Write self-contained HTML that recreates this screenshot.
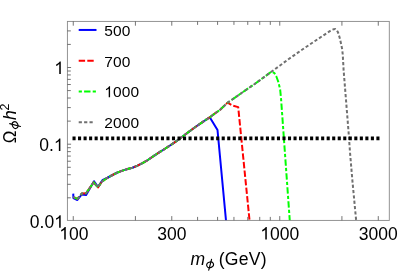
<!DOCTYPE html>
<html><head><meta charset="utf-8"><style>
html,body{margin:0;padding:0;background:#fff;}
body{width:399px;height:273px;overflow:hidden;position:relative;font-family:"Liberation Sans",sans-serif;}
</style></head><body>
<svg width="399" height="273" viewBox="0 0 399 273" style="position:absolute;left:0;top:0;will-change:transform">
<defs><clipPath id="c"><rect x="67.4" y="21.4" width="321.9" height="199.0"/></clipPath></defs>
<g clip-path="url(#c)" fill="none" stroke-width="2" stroke-linejoin="round">
<polyline points="73.25,193.60 73.40,198.00 77.40,200.00 81.75,194.50 86.10,195.00 94.00,181.20 98.00,186.90 102.40,180.20 107.50,177.75 112.50,175.00 117.50,172.50 122.50,170.60 127.50,169.00 132.50,167.75 137.50,165.60 142.50,163.10 147.50,160.25 150.00,158.50 155.00,155.10 160.00,151.90 165.00,148.75 170.00,145.50 175.00,142.10 179.40,139.00 186.25,133.70 195.00,127.25 202.50,122.10 209.75,117.27 217.50,130.00 226.05,221.00" stroke="#0000ff"/>
<polyline points="73.10,196.90 77.40,198.90 81.75,193.60 86.10,193.20 93.70,182.30 98.00,187.40 101.90,181.60 107.50,177.75 112.50,175.00 117.50,172.50 122.50,170.60 127.50,169.00 132.50,167.75 137.50,165.60 142.50,163.10 147.50,160.25 150.00,158.50 155.00,155.10 160.00,151.90 165.00,148.75 170.00,145.50 175.00,142.10 179.40,139.00 186.25,133.70 195.00,127.25 202.50,122.10 210.00,117.10 215.00,113.40 219.90,109.90 227.50,102.75 227.60,102.68 233.00,105.70 238.20,107.10 249.60,221.00" stroke="#ff0000" stroke-dasharray="6.4 2.2" stroke-dashoffset="-1.0"/>
<polyline points="73.10,196.90 77.40,198.90 81.75,193.60 86.10,193.20 93.70,182.30 98.00,187.40 101.90,181.60 107.50,177.75 112.50,175.00 117.50,172.50 122.50,170.60 127.50,169.00 132.50,167.75 137.50,165.60 142.50,163.10 147.50,160.25 150.00,158.50 155.00,155.10 160.00,151.90 165.00,148.75 170.00,145.50 175.00,142.10 179.40,139.00 186.25,133.70 195.00,127.25 202.50,122.10 210.00,117.10 215.00,113.40 219.90,109.90 227.50,102.75 235.00,97.60 245.00,90.60 255.00,83.75 264.40,76.90 271.25,71.80 271.70,71.48 274.40,73.10 276.25,76.25 278.10,81.25 279.10,85.00 280.20,90.00 281.00,98.00 289.80,221.00" stroke="#00ff00" stroke-dasharray="3.2 2.2 6.4 2.2" stroke-dashoffset="4.4"/>
<polyline points="73.10,196.90 77.40,198.90 81.75,193.60 86.10,193.20 93.70,182.30 98.00,187.40 101.90,181.60 107.50,177.75 112.50,175.00 117.50,172.50 122.50,170.60 127.50,169.00 132.50,167.75 137.50,165.60 142.50,163.10 147.50,160.25 150.00,158.50 155.00,155.10 160.00,151.90 165.00,148.75 170.00,145.50 175.00,142.10 179.40,139.00 186.25,133.70 195.00,127.25 202.50,122.10 210.00,117.10 215.00,113.40 219.90,109.90 227.50,102.75 235.00,97.60 245.00,90.60 255.00,83.75 264.40,76.90 271.25,71.80 280.00,65.50 288.75,59.00 297.50,52.90 303.10,49.00 315.00,41.00 325.00,34.30 331.90,29.80 333.80,29.20 335.40,29.10 336.80,30.20 338.10,32.60 339.75,38.00 341.00,43.50 342.10,48.90 342.75,54.50 343.60,70.00 348.60,132.50 350.10,153.50 352.40,180.60 356.20,221.00" stroke="#707070" stroke-dasharray="3.2 2.15" stroke-dashoffset="0.8"/>
<path d="M72.5 138.4H379.5" stroke="#000" stroke-width="3.6" stroke-dasharray="3.1 2.425"/>
</g>
<rect x="67.4" y="21.4" width="321.9" height="199.0" fill="none" stroke="#888888" stroke-width="0.9"/>
<path d="M73.25 220.40v-4.30M73.25 21.40v4.30M135.41 220.40v-4.30M135.41 21.40v4.30M171.78 220.40v-4.30M171.78 21.40v4.30M197.58 220.40v-3.50M197.58 21.40v3.50M217.59 220.40v-3.50M217.59 21.40v3.50M233.94 220.40v-3.50M233.94 21.40v3.50M247.76 220.40v-3.50M247.76 21.40v3.50M259.74 220.40v-3.50M259.74 21.40v3.50M270.30 220.40v-3.50M270.30 21.40v3.50M279.75 220.40v-4.30M279.75 21.40v4.30M341.91 220.40v-4.30M341.91 21.40v4.30M378.28 220.40v-4.30M378.28 21.40v4.30M67.40 197.81h3.40M67.40 184.30h3.40M67.40 174.72h3.40M67.40 167.29h3.40M67.40 161.22h3.40M67.40 156.08h3.40M67.40 151.63h3.40M67.40 147.71h3.40M67.40 144.20h3.70M67.40 121.11h3.40M67.40 107.60h3.40M67.40 98.02h3.40M67.40 90.59h3.40M67.40 84.52h3.40M67.40 79.38h3.40M67.40 74.93h3.40M67.40 71.01h3.40M67.40 67.50h3.70M67.40 44.41h3.40M67.40 30.90h3.40" stroke="#505050" stroke-width="0.8" fill="none"/>
<g fill="none" stroke-width="2">
<path d="M78.7 29.95H96.5" stroke="#0000ff"/>
<path d="M78.7 60.8H94" stroke="#ff0000" stroke-dasharray="6.4 2.2"/>
<path d="M78.7 91.5H96.5" stroke="#00ff00" stroke-dasharray="3.2 2.2 6.4 2.2"/>
<path d="M78.7 122.2H94" stroke="#707070" stroke-dasharray="3.2 2.2"/>
</g>
<g font-family="Liberation Sans, sans-serif" fill="#000">
<text x="104.30" y="35.90" font-size="15.5">5</text><text x="113.02" y="35.90" font-size="15.5">0</text><text x="121.74" y="35.90" font-size="15.5">0</text>
<text x="104.30" y="66.65" font-size="15.5">7</text><text x="113.02" y="66.65" font-size="15.5">0</text><text x="121.74" y="66.65" font-size="15.5">0</text>
<path transform="translate(104.30 97.35) scale(0.00757 -0.00757)" d="M763 0H583V1147Q518 1085 412.5 1023T223 930V1104Q372 1174 483.5 1273.5T641 1466H763V0Z"/><text x="113.02" y="97.35" font-size="15.5">0</text><text x="121.74" y="97.35" font-size="15.5">0</text><text x="130.45" y="97.35" font-size="15.5">0</text>
<text x="104.30" y="128.05" font-size="15.5">2</text><text x="113.02" y="128.05" font-size="15.5">0</text><text x="121.74" y="128.05" font-size="15.5">0</text><text x="130.45" y="128.05" font-size="15.5">0</text>
<path transform="translate(59.25 239.50) scale(0.00854 -0.00854)" d="M763 0H583V1147Q518 1085 412.5 1023T223 930V1104Q372 1174 483.5 1273.5T641 1466H763V0Z"/><text x="68.98" y="239.50" font-size="17.5">0</text><text x="78.72" y="239.50" font-size="17.5">0</text>
<text x="157.18" y="239.50" font-size="17.5">3</text><text x="166.91" y="239.50" font-size="17.5">0</text><text x="176.64" y="239.50" font-size="17.5">0</text>
<path transform="translate(260.29 239.50) scale(0.00854 -0.00854)" d="M763 0H583V1147Q518 1085 412.5 1023T223 930V1104Q372 1174 483.5 1273.5T641 1466H763V0Z"/><text x="270.02" y="239.50" font-size="17.5">0</text><text x="279.75" y="239.50" font-size="17.5">0</text><text x="289.48" y="239.50" font-size="17.5">0</text>
<text x="358.82" y="239.50" font-size="17.5">3</text><text x="368.55" y="239.50" font-size="17.5">0</text><text x="378.28" y="239.50" font-size="17.5">0</text><text x="388.01" y="239.50" font-size="17.5">0</text>
<path transform="translate(54.27 73.90) scale(0.00854 -0.00854)" d="M763 0H583V1147Q518 1085 412.5 1023T223 930V1104Q372 1174 483.5 1273.5T641 1466H763V0Z"/>
<text x="39.27" y="151.10" font-size="17.5">0</text><text x="49.00" y="151.10" font-size="17.5">.</text><path transform="translate(53.87 151.10) scale(0.00854 -0.00854)" d="M763 0H583V1147Q518 1085 412.5 1023T223 930V1104Q372 1174 483.5 1273.5T641 1466H763V0Z"/>
<text x="29.84" y="227.80" font-size="17.5">0</text><text x="39.58" y="227.80" font-size="17.5">.</text><text x="44.44" y="227.80" font-size="17.5">0</text><path transform="translate(54.17 227.80) scale(0.00854 -0.00854)" d="M763 0H583V1147Q518 1085 412.5 1023T223 930V1104Q372 1174 483.5 1273.5T641 1466H763V0Z"/>
<text x="190.6" y="264.8" font-size="17.5" font-style="italic">m</text>
<g transform="translate(210.1 264.8)" fill="none" stroke="#000" stroke-width="1.15" stroke-linecap="round"><ellipse cx="0" cy="0" rx="3.45" ry="2.75" transform="rotate(-22)"/><path d="M1.45 -5.4L-1.35 5.4"/></g>
<text x="218.7" y="264.8" font-size="17.6" letter-spacing="0.28">(GeV)</text>
<g transform="translate(15.7 143.2) rotate(-90)">
<text x="0" y="0" font-size="17.5" transform="scale(0.97 1)" >Ω</text>
<g transform="translate(18.1 -0.6)" fill="none" stroke="#000" stroke-width="1.15" stroke-linecap="round"><ellipse cx="0" cy="0" rx="3.45" ry="2.75" transform="rotate(-22)"/><path d="M1.45 -5.4L-1.35 5.4"/></g>
<text x="23.1" y="0" font-size="17.5" font-style="italic">h</text>
<text x="32.7" y="-6.8" font-size="12.5">2</text>
</g>
</g>
</svg>
</body></html>
